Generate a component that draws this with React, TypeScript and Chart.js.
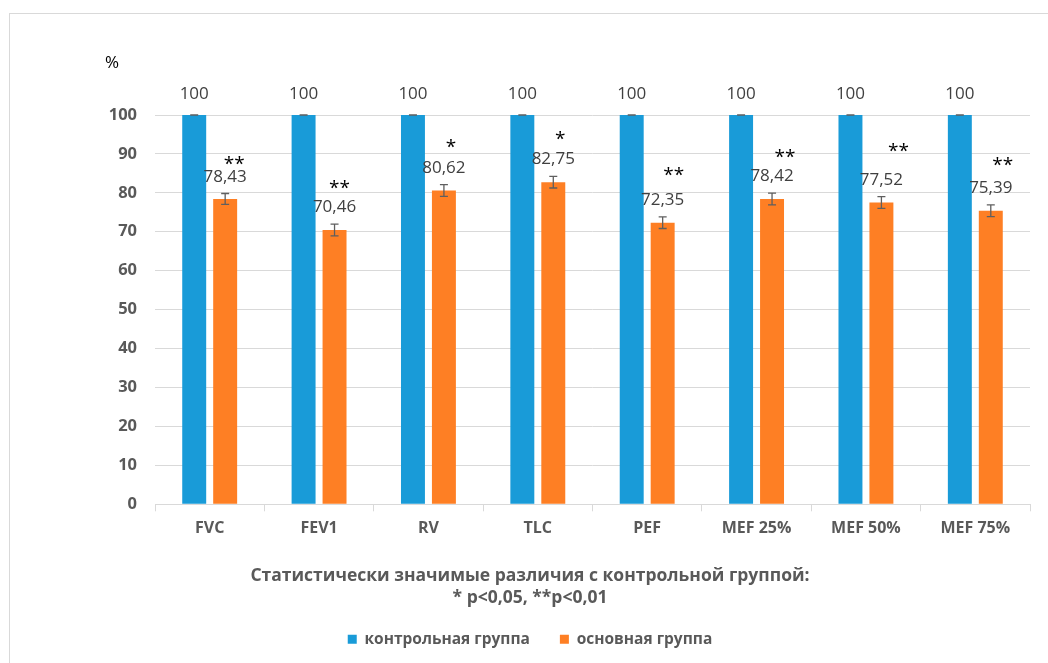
import React, { useEffect, useRef } from "react";
import { Chart, registerables } from "chart.js";

Chart.register(...registerables);

// Spirometry indices, % of the control group
const categories = ["FVC", "FEV1", "RV", "TLC", "PEF", "MEF 25%", "MEF 50%", "MEF 75%"];
const controlValues = [100, 100, 100, 100, 100, 100, 100, 100];
const mainValues = [78.43, 70.46, 80.62, 82.75, 72.35, 78.42, 77.52, 75.39];
const controlErrors = [0, 0, 0, 0, 0, 0, 0, 0];
const mainErrors = [1.4, 1.5, 1.5, 1.5, 1.5, 1.5, 1.5, 1.5];
const significance = ["**", "**", "*", "*", "**", "**", "**", "**"];
const yTicks = [0, 10, 20, 30, 40, 50, 60, 70, 80, 90, 100];

const seriesNames = ["контрольная группа", "основная группа"];
const axisTitle = ["Статистически значимые различия с контрольной группой:", "* p<0,05, **p<0,01"];

// Hand placement of the significance marks relative to each value label (px)
const starNudge: [number, number][] = [
  [9, -16], [5, -23], [7, -24], [7, -24], [11, -28], [13, -23], [17, -32], [12, -26],
];

const BLUE = "#199bd8";
const ORANGE = "#fe7f24";
const FONT = "'Open Sans', sans-serif";

const fmt = (v: number) => (Number.isInteger(v) ? String(v) : v.toFixed(2).replace(".", ","));

function drawCentered(ctx: CanvasRenderingContext2D, text: string, x: number, cy: number) {
  ctx.textAlign = "center";
  ctx.textBaseline = "alphabetic";
  const m = ctx.measureText(text);
  const asc = m.actualBoundingBoxAscent;
  const desc = m.actualBoundingBoxDescent;
  ctx.fillText(text, x, cy + (asc - desc) / 2);
}

const framePlugin = {
  id: "frame",
  beforeDraw(chart: any) {
    const { ctx, width, height } = chart;
    ctx.save();
    ctx.fillStyle = "#ffffff";
    ctx.fillRect(0, 0, width, height);
    ctx.strokeStyle = "#d9d9d9";
    ctx.lineWidth = 1;
    ctx.strokeRect(9.5, 13.5, width + 20, height + 20);
    ctx.restore();
  },
};

const errorAndLabelPlugin = {
  id: "errorsLabels",
  afterDatasetsDraw(chart: any) {
    const { ctx, chartArea } = chart;
    const y = chart.scales.y;
    const errorSets = [controlErrors, mainErrors];
    ctx.save();
    chart.data.datasets.forEach((ds: any, di: number) => {
      const meta = chart.getDatasetMeta(di);
      meta.data.forEach((bar: any, i: number) => {
        const v = ds.data[i] as number;
        const e = errorSets[di][i];
        const top = y.getPixelForValue(v + e);
        const bot = y.getPixelForValue(v - e);
        const cap = 4;
        ctx.strokeStyle = "#5f5f5f";
        ctx.lineWidth = 1.3;
        ctx.beginPath();
        ctx.moveTo(bar.x, top);
        ctx.lineTo(bar.x, bot);
        ctx.moveTo(bar.x - cap, top);
        ctx.lineTo(bar.x + cap, top);
        ctx.moveTo(bar.x - cap, bot);
        ctx.lineTo(bar.x + cap, bot);
        ctx.stroke();

        ctx.fillStyle = "#404040";
        ctx.font = `17px ${FONT}`;
        const labelY = top - (di === 0 ? 22 : 17);
        drawCentered(ctx, fmt(v), bar.x, labelY);

        if (di === 1) {
          const [dx, dy] = starNudge[i];
          ctx.fillStyle = "#000000";
          ctx.font = `19px ${FONT}`;
          drawCentered(ctx, significance[i], bar.x + dx, labelY + dy);
        }
      });
    });
    // unit label above the value axis
    ctx.fillStyle = "#000000";
    ctx.font = `17px ${FONT}`;
    drawCentered(ctx, "%", chartArea.left - 43, chartArea.top - 53);
    ctx.restore();
  },
};

export default function App() {
  const ref = useRef<HTMLCanvasElement | null>(null);

  useEffect(() => {
    if (!ref.current) return;
    const chart = new Chart(ref.current, {
      type: "bar",
      data: {
        labels: categories,
        datasets: [
          { label: seriesNames[0], data: controlValues, backgroundColor: BLUE, borderWidth: 0 },
          { label: seriesNames[1], data: mainValues, backgroundColor: ORANGE, borderWidth: 0 },
        ],
      },
      options: {
        animation: false,
        responsive: false,
        layout: { padding: { left: 30, right: 18, top: 115, bottom: 6 } },
        datasets: { bar: { categoryPercentage: 0.566, barPercentage: 0.774 } },
        scales: {
          x: {
            grid: { drawOnChartArea: false, drawTicks: true, tickLength: 7, color: "#d9d9d9", offset: true },
            border: { color: "#d9d9d9" },
            ticks: { color: "#595959", font: { family: FONT, size: 16, weight: "bold" }, padding: 8 },
          },
          y: {
            min: 0,
            max: 100,
            afterFit: (s: any) => {
              s.width = 125;
            },
            afterBuildTicks: (s: any) => {
              s.ticks = yTicks.map((v) => ({ value: v }));
            },
            grid: { color: "#d9d9d9", drawTicks: false },
            border: { display: false },
            ticks: { color: "#595959", font: { family: FONT, size: 16.5, weight: "bold" }, padding: 18 },
          },
        },
        plugins: {
          tooltip: { enabled: false },
          title: {
            display: true,
            position: "bottom",
            weight: 500,
            text: axisTitle,
            color: "#595959",
            font: { family: FONT, size: 17.5, weight: "bold", lineHeight: 1.257 },
            padding: { top: 19, bottom: -8 },
          },
          legend: {
            position: "bottom",
            labels: {
              boxWidth: 9,
              boxHeight: 9,
              padding: 30,
              color: "#595959",
              font: { family: FONT, size: 15.5, weight: "bold" },
            },
          },
        },
      } as any,
      plugins: [framePlugin, errorAndLabelPlugin],
    });
    return () => chart.destroy();
  }, []);

  return (
    <div style={{ position: "fixed", left: 0, top: 0, width: 1048, height: 663, background: "#fff" }}>
      <canvas ref={ref} width={1048} height={663} style={{ display: "block" }} />
    </div>
  );
}
